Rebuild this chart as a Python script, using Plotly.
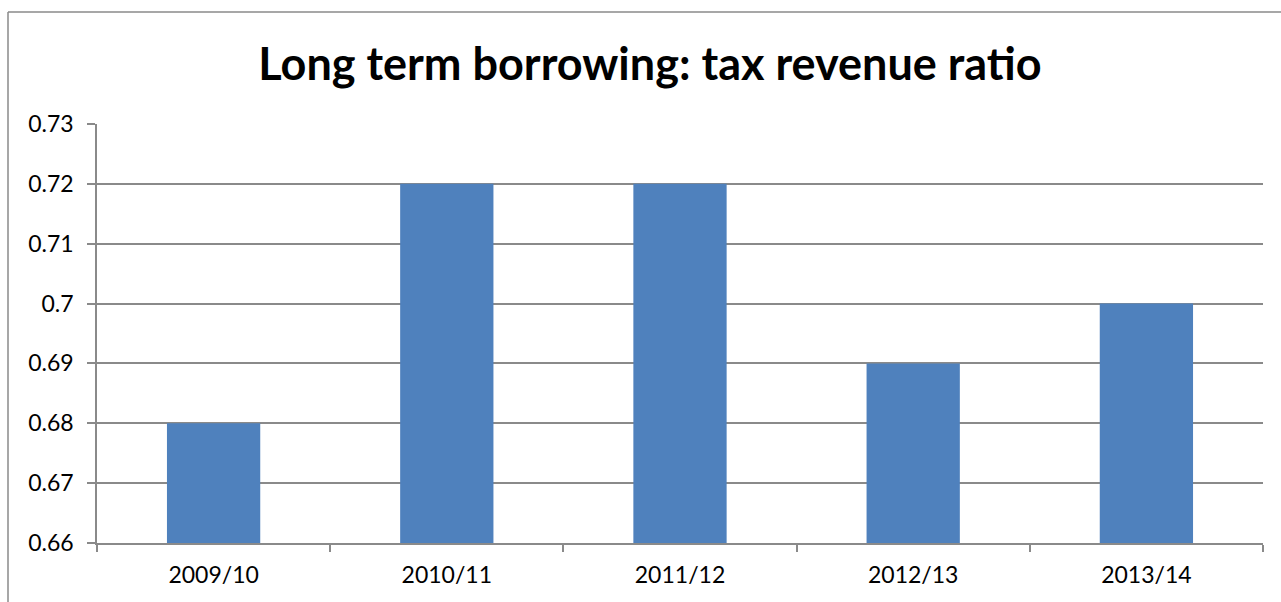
import plotly.graph_objects as go

# Long-term borrowing to tax revenue ratio by fiscal year
years = ["2009/10", "2010/11", "2011/12", "2012/13", "2013/14"]
ratios = [0.68, 0.72, 0.72, 0.69, 0.70]
y_ticks = [0.66, 0.67, 0.68, 0.69, 0.70, 0.71, 0.72, 0.73]
y_tick_text = ["0.66", "0.67", "0.68", "0.69", "0.7", "0.71", "0.72", "0.73"]

BAR = "#4F81BD"
GRID = "#8A8A8A"
FONT = "Lato, 'Open Sans', sans-serif"

fig = go.Figure(
    go.Bar(
        x=years,
        y=ratios,
        marker=dict(color=BAR, line=dict(width=0)),
        base=0,
    )
)

fig.update_layout(
    width=1281,
    height=602,
    margin=dict(l=97, r=18, t=124, b=59, pad=0),
    paper_bgcolor="white",
    plot_bgcolor="white",
    bargap=0.6,
    showlegend=False,
    font=dict(family=FONT, size=23, color="black"),
    title=dict(
        text="<b>Long term borrowing: tax revenue ratio</b>",
        font=dict(family=FONT, size=45, color="black"),
        x=650 / 1281,
        xanchor="center",
        xref="container",
        y=1 - 64 / 602,
        yanchor="middle",
        yref="container",
    ),
    xaxis=dict(
        type="category",
        tickson="boundaries",
        ticks="outside",
        ticklen=7,
        tickwidth=1.5,
        tickcolor=GRID,
        showline=True,
        linecolor=GRID,
        linewidth=1.5,
        showgrid=False,
        tickfont=dict(family=FONT, size=23),
        ticklabelstandoff=11,
    ),
    yaxis=dict(
        range=[0.66, 0.73],
        tickvals=y_ticks,
        ticktext=y_tick_text,
        ticks="outside",
        ticklen=8,
        tickwidth=1.5,
        tickcolor=GRID,
        showline=True,
        linecolor=GRID,
        linewidth=1.5,
        showgrid=True,
        gridcolor=GRID,
        gridwidth=1.5,
        zeroline=False,
        tickfont=dict(family=FONT, size=23),
        ticklabelstandoff=9,
    ),
    shapes=[
        # chart frame (left and top edges)
        dict(type="line", xref="paper", yref="paper",
             x0=(8 - 97) / 1166, x1=(8 - 97) / 1166,
             y0=1 + (124 - 12) / 419, y1=-(602 - 543) / 419 - 0.01,
             line=dict(color=GRID, width=1.5)),
        dict(type="line", xref="paper", yref="paper",
             x0=(8 - 97) / 1166, x1=(1290 - 97) / 1166,
             y0=1 + (124 - 12) / 419, y1=1 + (124 - 12) / 419,
             line=dict(color=GRID, width=1.5)),
    ],
)

fig.write_html("out.html")
